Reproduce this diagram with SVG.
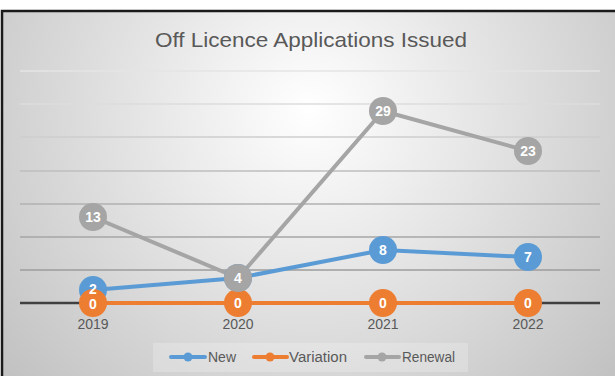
<svg xmlns="http://www.w3.org/2000/svg" width="615" height="376" viewBox="0 0 615 376">
  <defs>
    <radialGradient id="bg" gradientUnits="userSpaceOnUse" cx="310" cy="110" r="400">
      <stop offset="0" stop-color="#ffffff"/>
      <stop offset="0.25" stop-color="#f0f0f0"/>
      <stop offset="1" stop-color="#c2c2c2"/>
    </radialGradient>
    <style>
      .grid { stroke-width: 1.5; fill: none; }
      .line { fill: none; stroke-width: 4; stroke-linejoin: round; stroke-linecap: round; }
      .new { stroke: #5B9BD5; }
      .var { stroke: #ED7D31; }
      .ren { stroke: #A5A5A5; }
      .mnew { fill: #5B9BD5; }
      .mvar { fill: #ED7D31; }
      .mren { fill: #A5A5A5; }
      .lbl { font-family: "Liberation Sans", Arial, sans-serif; font-size: 14px; font-weight: bold; fill: #ffffff; text-anchor: middle; }
      .axis { font-family: "Liberation Sans", Arial, sans-serif; font-size: 14px; fill: #595959; text-anchor: middle; }
      .leg { font-family: "Liberation Sans", Arial, sans-serif; font-size: 14px; fill: #595959; }
      .title { font-family: "Liberation Sans", Arial, sans-serif; font-size: 21px; fill: #595959; text-anchor: middle; }
    </style>
  </defs>

  <rect x="0" y="0" width="615" height="376" fill="#ffffff"/>
  <rect id="chart-area" x="2" y="11" width="615" height="370" fill="url(#bg)"/>
  <path d="M2,381 V11 H615" fill="none" stroke="#1a1a1a" stroke-width="2.5"/>

  <text id="title" class="title" x="311" y="47" textLength="312" lengthAdjust="spacingAndGlyphs">Off Licence Applications Issued</text>

  <g id="gridlines">
    <line class="grid" x1="20" y1="71" x2="600" y2="71" stroke="#e4e4e4"/>
    <line class="grid" x1="20" y1="104" x2="600" y2="104" stroke="#dcdcdc"/>
    <line class="grid" x1="20" y1="137" x2="600" y2="137" stroke="#cecece"/>
    <line class="grid" x1="20" y1="171" x2="600" y2="171" stroke="#bebebe"/>
    <line class="grid" x1="20" y1="204" x2="600" y2="204" stroke="#b0b0b0"/>
    <line class="grid" x1="20" y1="237" x2="600" y2="237" stroke="#a6a6a6"/>
    <line class="grid" x1="20" y1="270" x2="600" y2="270" stroke="#9c9c9c"/>
  </g>
  <line id="x-axis" x1="20" y1="303" x2="600" y2="303" stroke="#404040" stroke-width="2.5"/>

  <g id="connectors">
    <polyline class="line new" points="93,290 238,278 383,250 528,257"/>
    <polyline class="line var" points="93,303 238,303 383,303 528,303"/>
    <polyline class="line ren" points="93,217 238,278 383,111 528,151"/>
  </g>

  <g id="series-new">
    <circle class="mnew" cx="93" cy="290" r="14"/>
    <circle class="mnew" cx="238" cy="278" r="14"/>
    <circle class="mnew" cx="383" cy="250" r="14"/>
    <circle class="mnew" cx="528" cy="257" r="14"/>
  </g>
  <g id="series-variation">
    <circle class="mvar" cx="93" cy="303" r="14"/>
    <circle class="mvar" cx="238" cy="303" r="14"/>
    <circle class="mvar" cx="383" cy="303" r="14"/>
    <circle class="mvar" cx="528" cy="303" r="14"/>
  </g>
  <g id="series-renewal">
    <circle class="mren" cx="93" cy="217" r="14"/>
    <circle class="mren" cx="238" cy="278" r="14"/>
    <circle class="mren" cx="383" cy="111" r="14"/>
    <circle class="mren" cx="528" cy="151" r="14"/>
  </g>

  <g id="data-labels">
    <text class="lbl" x="93" y="294">2</text>
    <text class="lbl" x="383" y="255">8</text>
    <text class="lbl" x="528" y="262">7</text>
    <text class="lbl" x="93" y="309">0</text>
    <text class="lbl" x="238" y="308">0</text>
    <text class="lbl" x="383" y="308">0</text>
    <text class="lbl" x="528" y="308">0</text>
    <text class="lbl" x="93" y="222">13</text>
    <text class="lbl" x="238" y="283">4</text>
    <text class="lbl" x="383" y="116">29</text>
    <text class="lbl" x="528" y="156">23</text>
  </g>

  <g id="axis-labels">
    <text class="axis" x="93" y="329">2019</text>
    <text class="axis" x="238" y="329">2020</text>
    <text class="axis" x="383" y="329">2021</text>
    <text class="axis" x="528" y="329">2022</text>
  </g>

  <g id="legend">
    <rect x="153" y="343" width="315" height="29" fill="#ffffff" fill-opacity="0.22"/>
    <g id="legend-new">
      <line class="line new" x1="171" y1="357" x2="205" y2="357" stroke-width="3.5"/>
      <circle class="mnew" cx="188" cy="357" r="4.5"/>
      <text class="leg" x="208" y="362">New</text>
    </g>
    <g id="legend-variation">
      <line class="line var" x1="254" y1="357" x2="287" y2="357" stroke-width="3.5"/>
      <circle class="mvar" cx="270" cy="357" r="4.5"/>
      <text class="leg" x="289" y="362" textLength="58" lengthAdjust="spacingAndGlyphs">Variation</text>
    </g>
    <g id="legend-renewal">
      <line class="line ren" x1="366" y1="357" x2="399" y2="357" stroke-width="3.5"/>
      <circle class="mren" cx="382" cy="357" r="4.5"/>
      <text class="leg" x="402" y="362" textLength="53" lengthAdjust="spacingAndGlyphs">Renewal</text>
    </g>
  </g>
</svg>
